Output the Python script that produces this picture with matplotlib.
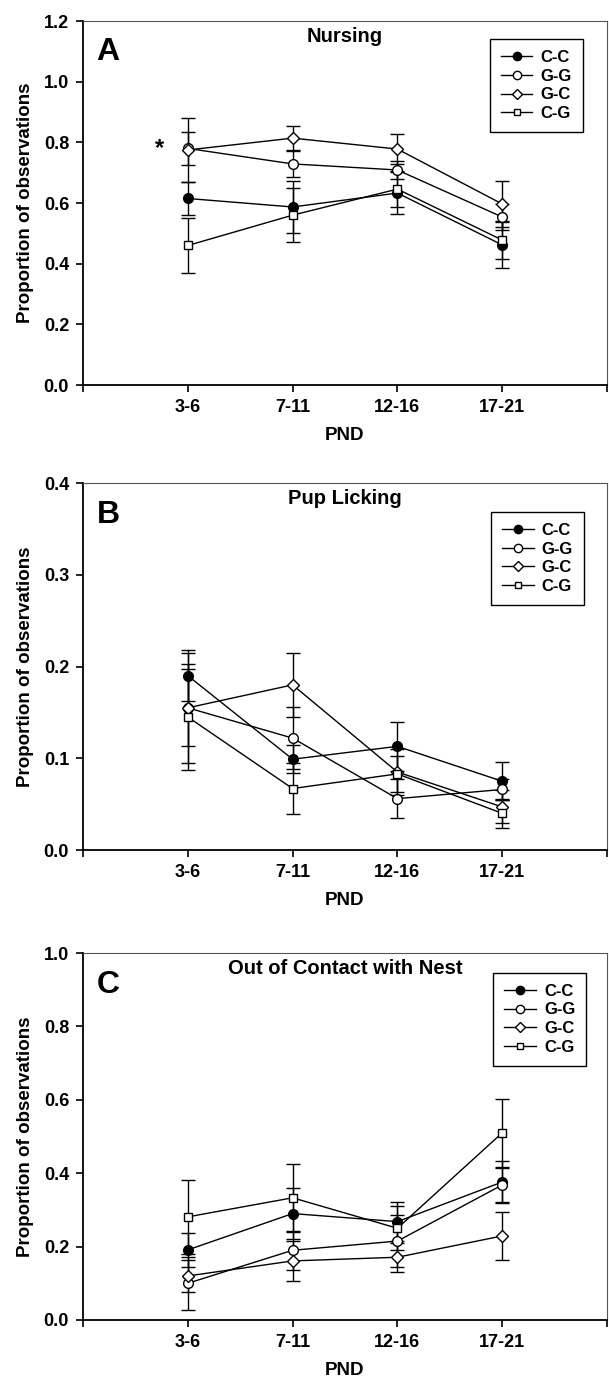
import numpy as np
import matplotlib
matplotlib.use("Agg")
import matplotlib.pyplot as plt
from matplotlib.lines import Line2D

plt.rcParams["font.family"] = ["Liberation Sans", "DejaVu Sans"]
plt.rcParams["font.weight"] = "bold"

periods = ["3-6", "7-11", "12-16", "17-21"]
groups = ["C-C", "G-G", "G-C", "C-G"]

# Nursing
nurs_cc = [0.615, 0.587, 0.633, 0.462]
nurs_gg = [0.780, 0.729, 0.709, 0.554]
nurs_gc = [0.775, 0.814, 0.778, 0.597]
nurs_cg = [0.460, 0.560, 0.646, 0.478]
nurs_cc_err = [0.055, 0.085, 0.070, 0.076]
nurs_gg_err = [0.055, 0.043, 0.030, 0.042]
nurs_gc_err = [0.105, 0.040, 0.050, 0.076]
nurs_cg_err = [0.090, 0.088, 0.060, 0.063]

# Pup licking
lick_cc = [0.190, 0.099, 0.113, 0.075]
lick_gg = [0.155, 0.122, 0.056, 0.066]
lick_gc = [0.155, 0.180, 0.085, 0.047]
lick_cg = [0.145, 0.067, 0.083, 0.040]
lick_cc_err = [0.028, 0.015, 0.027, 0.021]
lick_gg_err = [0.042, 0.034, 0.021, 0.011]
lick_gc_err = [0.060, 0.035, 0.025, 0.018]
lick_cg_err = [0.058, 0.028, 0.020, 0.016]

# Out of contact with nest
out_cc = [0.191, 0.290, 0.268, 0.376]
out_gg = [0.100, 0.190, 0.215, 0.368]
out_gc = [0.120, 0.161, 0.171, 0.229]
out_cg = [0.281, 0.333, 0.250, 0.510]
out_cc_err = [0.046, 0.070, 0.054, 0.058]
out_gg_err = [0.073, 0.053, 0.070, 0.046]
out_gc_err = [0.043, 0.054, 0.040, 0.066]
out_cg_err = [0.100, 0.092, 0.060, 0.092]

markers = ["o", "o", "D", "s"]
faces = ["black", "white", "white", "white"]
msizes = [7, 7, 6, 6]

panels = [
    dict(letter="A", title="Nursing", ymax=1.2, step=0.2,
         vals=[nurs_cc, nurs_gg, nurs_gc, nurs_cg],
         errs=[nurs_cc_err, nurs_gg_err, nurs_gc_err, nurs_cg_err],
         rect=[0.1363, 0.7204, 0.8604, 0.2643], leg=(0.954, 0.950)),
    dict(letter="B", title="Pup Licking", ymax=0.4, step=0.1,
         vals=[lick_cc, lick_gg, lick_gc, lick_cg],
         errs=[lick_cc_err, lick_gg_err, lick_gc_err, lick_cg_err],
         rect=[0.1363, 0.3827, 0.8604, 0.2665], leg=(0.956, 0.921)),
    dict(letter="C", title="Out of Contact with Nest", ymax=1.0, step=0.2,
         vals=[out_cc, out_gg, out_gc, out_cg],
         errs=[out_cc_err, out_gg_err, out_gc_err, out_cg_err],
         rect=[0.1363, 0.0414, 0.8604, 0.2665], leg=(0.960, 0.946)),
]

fig = plt.figure(figsize=(6.09, 13.77), dpi=100)
x = np.arange(len(periods))

for p in panels:
    ax = fig.add_axes(p["rect"])
    handles = []
    for g, v, e, m, fc, ms in zip(groups, p["vals"], p["errs"], markers, faces, msizes):
        ax.errorbar(x, v, yerr=e, color="black", lw=1.0, marker=m, mfc=fc,
                    mec="black", mew=1.0, ms=ms, capsize=5, elinewidth=1.0,
                    capthick=1.0)
        handles.append(Line2D([], [], color="black", lw=1.0, marker=m, mfc=fc,
                              mec="black", mew=1.0, ms=ms - 1, label=g))
    ax.set_xlim(-1, 4)
    ax.set_ylim(0, p["ymax"])
    ax.set_xticks([-1, 0, 1, 2, 3, 4])
    ax.set_xticklabels([""] + periods + [""])
    yt = np.arange(0, p["ymax"] + 1e-9, p["step"])
    ax.set_yticks(yt)
    ax.set_yticklabels([f"{t:.1f}" for t in yt])
    ax.tick_params(direction="out", length=5, width=1.2, labelsize=13, pad=5)
    for s in ["left", "bottom"]:
        ax.spines[s].set_linewidth(1.3)
    for s in ["top", "right"]:
        ax.spines[s].set_color("#555555")
        ax.spines[s].set_linewidth(0.8)
    ax.set_xlabel("PND", fontsize=13.5, fontweight="bold", labelpad=8)
    ax.set_ylabel("Proportion of observations", fontsize=13.5, fontweight="bold", labelpad=7)
    ax.text(0.026, 0.955, p["letter"], transform=ax.transAxes, fontsize=23,
            fontweight="bold", va="top", ha="left")
    ax.text(0.5, 0.985, p["title"], transform=ax.transAxes, fontsize=14.5,
            fontweight="bold", va="top", ha="center")
    leg = ax.legend(handles=handles, loc="upper right", bbox_to_anchor=p["leg"],
                    fontsize=12, handlelength=1.9, handletextpad=0.5,
                    borderpad=0.65, borderaxespad=0, labelspacing=0.22,
                    fancybox=False, edgecolor="black", framealpha=1)
    leg.get_frame().set_linewidth(1.0)
    for t in leg.get_texts():
        t.set_fontweight("bold")
    if p["letter"] == "A":
        ax.text(-0.27, 0.78, "*", fontsize=17, fontweight="bold",
                ha="center", va="center")

fig.savefig("out.png", dpi=100)
